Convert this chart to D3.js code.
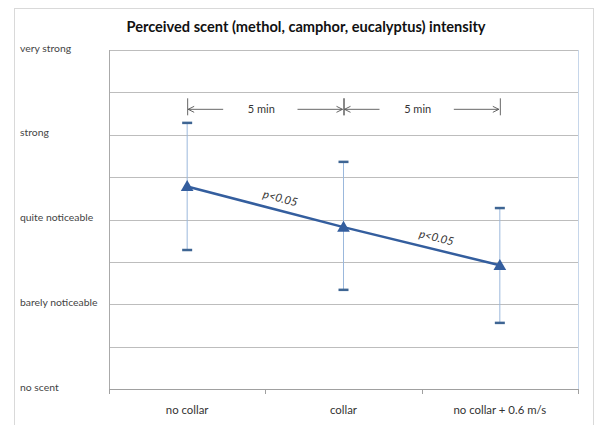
<!DOCTYPE html>
<html lang="en">
<head>
<meta charset="UTF-8">
<title>Perceived scent</title>
<script src="https://cdn.jsdelivr.net/npm/d3@7"></script>
<style>
  body { margin: 0; background: #fff; }
  text { font-family: Lato, "Open Sans", sans-serif; }
</style>
</head>
<body>
<svg width="600" height="425" id="mainsvg"></svg>
<script>
// data
const categories = ['no collar', 'collar', 'no collar + 0.6 m/s'];
const means = [4.78, 3.82, 2.92];
const upper = [6.28, 5.36, 4.27];
const lower = [3.28, 2.34, 1.56];
const levelNames = ['no scent', 'barely noticeable', 'quite noticeable', 'strong', 'very strong'];
const levelValues = [0, 2, 4, 6, 8];
const gridValues = [0, 1, 2, 3, 4, 5, 6, 7, 8];
const intervals = [[0, 1, '5 min'], [1, 2, '5 min']];
const pLabels = [[0, 1, 'p<0.05'], [1, 2, 'p<0.05']];

const svg = d3.select('svg');
const plotLeft = 109, plotRight = 578, plotTop = 50, plotBottom = 389;

// outer chart border
svg.append('rect').attr('x', 14.5).attr('y', 8.5).attr('width', 579).attr('height', 430)
  .attr('fill', 'none').attr('stroke', '#d9d9d9');

const x = d3.scaleBand().domain(categories).range([plotLeft, plotRight]);
const y = d3.scaleLinear().domain([0, 8]).range([plotBottom, plotTop]);
const cx = i => x(categories[i]) + x.bandwidth() / 2;

// title
svg.append('text').attr('x', 306).attr('y', 32).attr('text-anchor', 'middle')
  .attr('font-size', 14.6).attr('font-weight', 'bold').attr('fill', '#111')
  .text('Perceived scent (methol, camphor, eucalyptus) intensity');

// gridlines
svg.append('g').selectAll('line').data(gridValues).join('line')
  .attr('x1', plotLeft).attr('x2', plotRight)
  .attr('y1', d => Math.round(y(d)) + 0.5).attr('y2', d => Math.round(y(d)) + 0.5)
  .attr('stroke', d => d === 0 ? '#a0a0a0' : '#bdbdbd').attr('stroke-width', 1);

// plot border right, left axis
svg.append('line').attr('x1', plotRight + 0.5).attr('x2', plotRight + 0.5).attr('y1', plotTop).attr('y2', plotBottom)
  .attr('stroke', '#c6d6ea');
svg.append('line').attr('x1', plotLeft + 0.5).attr('x2', plotLeft + 0.5).attr('y1', plotTop).attr('y2', plotBottom)
  .attr('stroke', '#aaaaaa');

// y labels
svg.append('g').selectAll('text').data(levelValues).join('text')
  .attr('x', 20).attr('y', d => y(d) - 1).attr('dominant-baseline', 'middle')
  .attr('font-size', 10.4).attr('fill', '#444')
  .text((d, i) => levelNames[i]);

// x axis ticks + labels
const bounds = [plotLeft, ...categories.map(c => x(c) + x.bandwidth())];
svg.append('g').selectAll('line').data(bounds).join('line')
  .attr('x1', d => Math.round(d) + 0.5).attr('x2', d => Math.round(d) + 0.5)
  .attr('y1', plotBottom).attr('y2', plotBottom + 5).attr('stroke', '#a0a0a0');
svg.append('g').selectAll('text').data(categories).join('text')
  .attr('x', (d, i) => cx(i)).attr('y', 414).attr('text-anchor', 'middle')
  .attr('font-size', 11.4).attr('fill', '#333').text(d => d);

// error bars
const eb = svg.append('g');
eb.selectAll('line.v').data(categories).join('line').attr('class', 'v')
  .attr('x1', (d, i) => cx(i)).attr('x2', (d, i) => cx(i))
  .attr('y1', (d, i) => y(upper[i])).attr('y2', (d, i) => y(lower[i]))
  .attr('stroke', '#9bb8dc').attr('stroke-width', 1);
[upper, lower].forEach(arr => {
  eb.append('g').selectAll('line').data(categories).join('line')
    .attr('x1', (d, i) => cx(i) - 5).attr('x2', (d, i) => cx(i) + 5)
    .attr('y1', (d, i) => y(arr[i])).attr('y2', (d, i) => y(arr[i]))
    .attr('stroke', '#3e6593').attr('stroke-width', 2.5);
});

// mean line + triangles
const line = d3.line().x((d, i) => cx(i)).y(d => y(d));
svg.append('path').datum(means).attr('d', line).attr('fill', 'none')
  .attr('stroke', '#345e9e').attr('stroke-width', 2.5);
const tri = d3.symbol().type(d3.symbolTriangle).size(70);
svg.append('g').selectAll('path').data(means).join('path')
  .attr('d', tri).attr('transform', (d, i) => `translate(${cx(i)},${y(d) + 1})`)
  .attr('fill', '#345e9e');

// p-value labels along segments
svg.append('g').selectAll('text').data(pLabels).join('text')
  .attr('transform', d => {
    const x1 = cx(d[0]), x2 = cx(d[1]), y1 = y(means[d[0]]), y2 = y(means[d[1]]);
    const ang = Math.atan2(y2 - y1, x2 - x1) * 180 / Math.PI;
    const mx = (x1 + x2) / 2 + 12, my = (y1 + y2) / 2 + 3;
    return `translate(${mx},${my}) rotate(${ang}) translate(0,-8)`;
  })
  .attr('text-anchor', 'middle').attr('font-size', 11.4).attr('font-style', 'italic')
  .attr('fill', '#333').text(d => d[2]);

// interval annotations
const ay = y(6.6);
const ann = svg.append('g').attr('stroke', '#555').attr('fill', 'none').attr('stroke-width', 0.9);
const arrow = (xFrom, xTo) => {
  ann.append('line').attr('x1', xFrom).attr('x2', xTo).attr('y1', ay).attr('y2', ay);
  const s = xTo > xFrom ? -1 : 1;
  ann.append('path').attr('d', `M${xTo + s * 6},${ay - 3}L${xTo},${ay}L${xTo + s * 6},${ay + 3}`);
};
intervals.forEach(d => {
  const a = cx(d[0]), b = cx(d[1]);
  ann.append('line').attr('x1', a + 0.5).attr('x2', a + 0.5).attr('y1', ay - 11).attr('y2', ay + 6);
  ann.append('line').attr('x1', b + 0.5).attr('x2', b + 0.5).attr('y1', ay - 11).attr('y2', ay + 6);
  arrow(a + 36, a + 1);
  arrow(b - 46, b - 1);
  svg.append('text').attr('x', (a + b) / 2 - 4).attr('y', ay + 1).attr('dominant-baseline', 'middle')
    .attr('text-anchor', 'middle').attr('font-size', 11).attr('fill', '#333').text(d[2]);
});
</script>
</body>
</html>
